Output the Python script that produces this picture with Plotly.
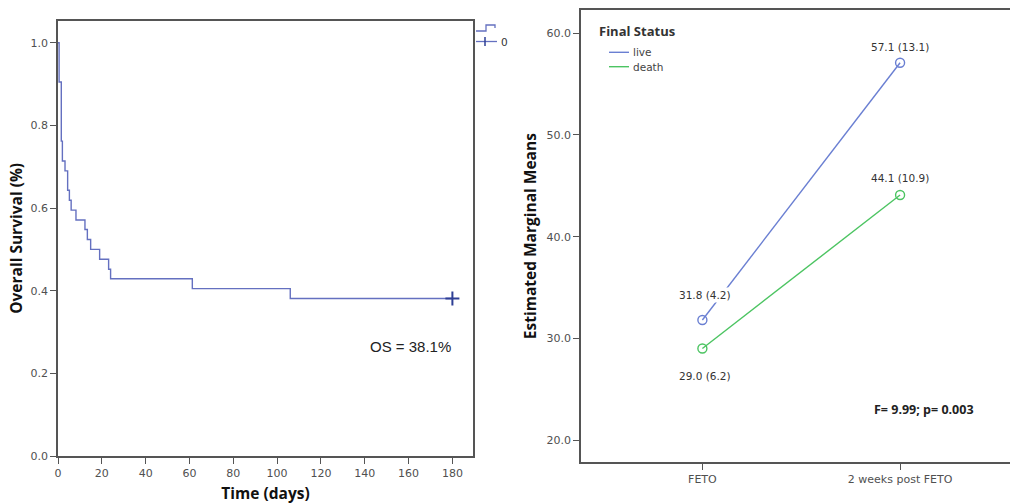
import plotly.graph_objects as go

# ---------------- data ----------------
# Kaplan-Meier (left panel): step times (days) and survival after each step
km_times = [0, 0.5, 1.5, 2.0, 3.2, 4.4, 5.2, 6.0, 8.2, 12.3, 13.4, 14.9, 19.0, 23.1, 24.0, 61.3, 106.0, 180.0]
km_surv = [1.0, 0.905, 0.762, 0.714, 0.690, 0.643, 0.619, 0.595, 0.571, 0.548, 0.524, 0.500, 0.476, 0.452, 0.429, 0.405, 0.381, 0.381]
censor_time = [180.0]
censor_surv = [0.381]
os_text = "OS = 38.1%"

# Estimated marginal means (right panel)
timepoints = ["FETO", "2 weeks post FETO"]
groups = ["live", "death"]
live_means = [31.8, 57.1]
live_sd = [4.2, 13.1]
death_means = [29.0, 44.1]
death_sd = [6.2, 10.9]
stat_text = "F= 9.99; p= 0.003"
legend_title = "Final Status"

W, H = 1010, 504
km_color = "#6470c0"
live_color = "#6a7fd2"
death_color = "#4cc462"
axis_color = "#555555"
tick_font = dict(family="DejaVu Sans", size=11, color="#505050")
title_font = dict(family="Open Sans", size=15.5, color="#111111")


def px(x):
    return x / W


def py(y):
    return 1 - y / H


fig = go.Figure()

# ---- left panel: KM curve ----
fig.add_trace(go.Scatter(
    x=km_times, y=km_surv, mode="lines", line=dict(color=km_color, width=1.4, shape="hv"),
    xaxis="x", yaxis="y", showlegend=False, hoverinfo="skip"))
fig.add_trace(go.Scatter(
    x=censor_time, y=censor_surv, mode="markers",
    marker=dict(symbol="cross-thin", size=10, line=dict(color="#2e3f95", width=2)),
    xaxis="x", yaxis="y", showlegend=False))

# ---- right panel: means ----
for name, means, color in [(groups[0], live_means, live_color), (groups[1], death_means, death_color)]:
    fig.add_trace(go.Scatter(
        x=[0, 1], y=means, mode="lines+markers", name=name, showlegend=False,
        line=dict(color=color, width=1.4),
        marker=dict(symbol="circle-open", size=9, line=dict(color=color, width=1.4)),
        xaxis="x2", yaxis="y2"))

annotations = []
lab_font = dict(family="DejaVu Sans", size=10.5, color="#333333")
for i in range(2):
    annotations.append(dict(x=i, y=live_means[i], xref="x2", yref="y2",
                            text=f"{live_means[i]:.1f} ({live_sd[i]:.1f})", bgcolor="white",
                            showarrow=False, yshift=[25, 16][i], xshift=[3, 0][i], font=lab_font))
    annotations.append(dict(x=i, y=death_means[i], xref="x2", yref="y2",
                            text=f"{death_means[i]:.1f} ({death_sd[i]:.1f})",
                            showarrow=False, yshift=[-27, 17][i], xshift=[3, 0][i], font=lab_font))

annotations.append(dict(x=161, y=0.266, xref="x", yref="y", text=os_text, showarrow=False,
                        font=dict(family="Liberation Sans", size=15, color="#222222")))
annotations.append(dict(x=1.12, y=23.0, xref="x2", yref="y2", text="<b>" + stat_text + "</b>",
                        showarrow=False, font=dict(family="Open Sans", size=12.5, color="#222222")))

# ---- hand-drawn legends (SPSS style) ----
shapes = [
    # left legend: step glyph (curve) and censored glyph
    dict(type="path", xref="paper", yref="paper",
         path=f"M {px(476)} {py(31)} L {px(486)} {py(31)} L {px(486)} {py(25)} L {px(495)} {py(25)} L {px(495)} {py(28)}",
         line=dict(color=km_color, width=1.3)),
    dict(type="line", xref="paper", yref="paper", x0=px(476), x1=px(497), y0=py(41.5), y1=py(41.5),
         line=dict(color=km_color, width=1.3)),
    dict(type="line", xref="paper", yref="paper", x0=px(485), x1=px(485), y0=py(37), y1=py(46),
         line=dict(color="#2e3f95", width=1.5)),
    # right legend lines
    dict(type="line", xref="paper", yref="paper", x0=px(609), x1=px(629), y0=py(52.3), y1=py(52.3),
         line=dict(color=live_color, width=1.4)),
    dict(type="line", xref="paper", yref="paper", x0=px(609), x1=px(629), y0=py(66.7), y1=py(66.7),
         line=dict(color=death_color, width=1.4)),
]
annotations.append(dict(x=px(499), y=py(42), xref="paper", yref="paper", text="0", showarrow=False,
                        xanchor="left", yanchor="middle",
                        font=dict(family="DejaVu Sans", size=10.5, color="#333333")))
annotations.append(dict(x=px(597), y=py(31), xref="paper", yref="paper", text="<b>" + legend_title + "</b>",
                        showarrow=False, xanchor="left", yanchor="middle",
                        font=dict(family="Open Sans", size=13, color="#333333")))
for name, yy in [(groups[0], 52.3), (groups[1], 66.7)]:
    annotations.append(dict(x=px(631), y=py(yy), xref="paper", yref="paper", text=name,
                            showarrow=False, xanchor="left", yanchor="middle",
                            font=dict(family="DejaVu Sans", size=10.5, color="#444444")))

common = dict(ticks="outside", ticklen=6, tickwidth=1.3, tickcolor=axis_color,
              showline=True, linecolor=axis_color, linewidth=1.5,
              showgrid=False, zeroline=False, tickfont=tick_font, automargin=False)

fig.update_layout(
    width=W, height=H,
    margin=dict(l=0, r=0, t=0, b=0),
    paper_bgcolor="white", plot_bgcolor="white",
    showlegend=False,
    annotations=annotations,
    shapes=shapes,
    xaxis=dict(domain=[px(58), px(473)], range=[0, 189.4],
               tickvals=[0, 20, 40, 60, 80, 100, 120, 140, 160, 180], mirror=True,
               title=dict(text="<b>Time (days)</b>", font=title_font, standoff=11), **common),
    yaxis=dict(domain=[py(456), py(20.7)], range=[0, 1.0535],
               tickvals=[0, 0.2, 0.4, 0.6, 0.8, 1.0], tickformat=".1f", mirror=True,
               title=dict(text="<b>Overall Survival (%)</b>", font=title_font, standoff=4), **common),
    xaxis2=dict(domain=[px(581), 1.0], range=[-0.614, 1.556],
                tickvals=[0, 1], ticktext=timepoints, mirror=True, anchor="y2", **common),
    yaxis2=dict(domain=[py(462.3), py(10)], range=[17.81, 62.29],
                tickvals=[20, 30, 40, 50, 60], tickformat=".1f", mirror=False, anchor="x2",
                title=dict(text="<b>Estimated Marginal Means</b>", font=title_font, standoff=6), **common),
)

fig.write_html("out.html", config={"displayModeBar": False},
               post_script="document.body.style.margin='0px';")
